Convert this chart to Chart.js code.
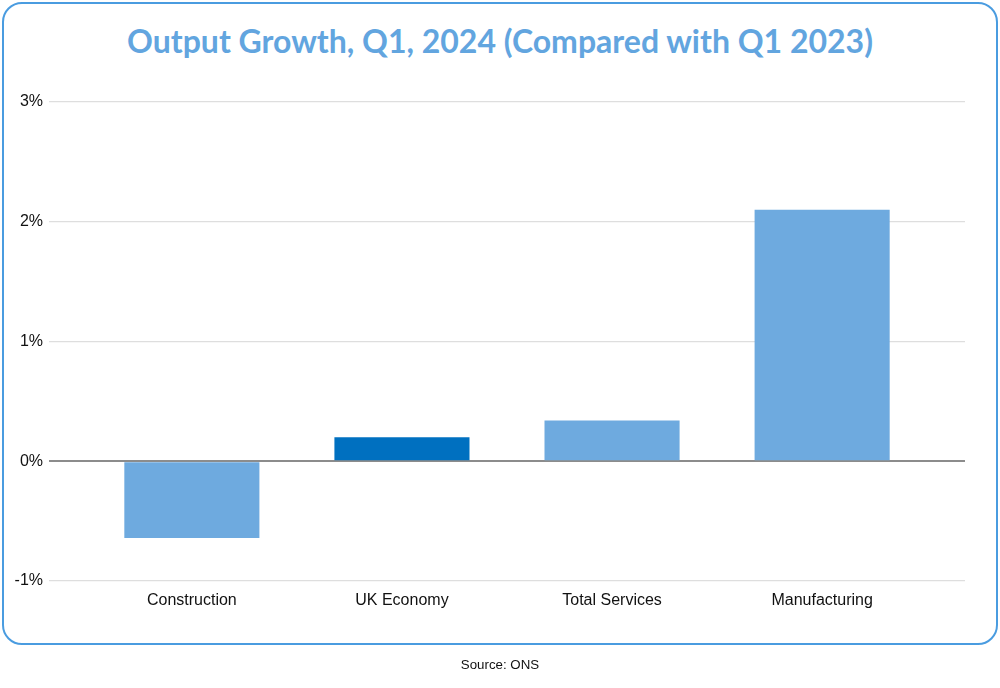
<!DOCTYPE html>
<html>
<head>
<meta charset="utf-8">
<script src="https://cdn.jsdelivr.net/npm/chart.js@4"></script>
<style>
  html, body { margin: 0; padding: 0; background: #fff; }
  body { width: 1000px; height: 688px; position: relative; overflow: hidden; font-family: 'Liberation Sans', Arial, sans-serif; }
  .frame { position: absolute; left: 2px; top: 2px; width: 992px; height: 639px; border: 2px solid #4a9ce0; border-radius: 20px; }
  .title { position: absolute; left: 0; top: 21px; width: 1000px; text-align: center; font-family: Lato, 'Open Sans', sans-serif; font-weight: 700; font-size: 32px; color: #62a5df; }
  .source { position: absolute; left: 0; top: 657px; width: 1000px; text-align: center; font-size: 13.3px; color: #111; }
  #chartWrap { position: absolute; left: 0; top: 0; width: 1000px; height: 688px; }
</style>
</head>
<body>
<div class="frame"></div>
<div class="title">Output Growth, Q1, 2024 (Compared with Q1 2023)</div>
<div id="chartWrap"><canvas id="growthChart"></canvas></div>
<div class="source">Source: ONS</div>

<script>
// ===== Data =====
const categories = ['Construction', 'UK Economy', 'Total Services', 'Manufacturing'];
const growthValues = [-0.64, 0.2, 0.34, 2.1];
const yTicks = [-1, 0, 1, 2, 3];

// ===== Colours =====
const colors = {
  bar: '#6eaadf',
  highlight: '#0070c0',
  grid: '#dedede',
  zero: '#8c8c8c',
  text: '#111111',
};
const barColors = categories.map(c => c === 'UK Economy' ? colors.highlight : colors.bar);

Chart.defaults.font.family = "'Liberation Sans', Arial, sans-serif";
Chart.defaults.font.size = 16;
Chart.defaults.color = colors.text;

// ===== Bar Chart =====
const ctx = document.getElementById('growthChart').getContext('2d');
new Chart(ctx, {
  type: 'bar',
  data: {
    datasets: [{
      data: growthValues.map((v, i) => ({ x: i, y: v })),
      backgroundColor: barColors,
      borderWidth: 0,
      barPercentage: 0.643,
      categoryPercentage: 1,
    }]
  },
  options: {
    responsive: true,
    maintainAspectRatio: false,
    animation: false,
    layout: { padding: { top: 102, right: 35, bottom: 67, left: 0 } },
    plugins: {
      legend: { display: false },
      tooltip: { enabled: false }
    },
    scales: {
      x: {
        type: 'linear',
        offset: false,
        min: -0.68,
        max: 3.68,
        grid: { display: false, drawTicks: false },
        border: { display: false },
        afterBuildTicks: axis => { axis.ticks = categories.map((_, i) => ({ value: i })); },
        afterFit: axis => { axis.height = 40; },
        ticks: {
          padding: 10,
          maxRotation: 0,
          autoSkip: false,
          callback: v => categories[v] ?? ''
        }
      },
      y: {
        min: yTicks[0],
        max: yTicks[yTicks.length - 1],
        afterBuildTicks: axis => { axis.ticks = yTicks.map(v => ({ value: v })); },
        afterFit: axis => { axis.width = 49; },
        border: { display: false },
        grid: {
          drawTicks: false,
          color: c => c.tick && c.tick.value === 0 ? colors.zero : colors.grid,
          lineWidth: c => c.tick && c.tick.value === 0 ? 2 : 1.2,
        },
        ticks: {
          padding: 6,
          callback: v => v + '%'
        }
      }
    }
  }
});
</script>
</body>
</html>
